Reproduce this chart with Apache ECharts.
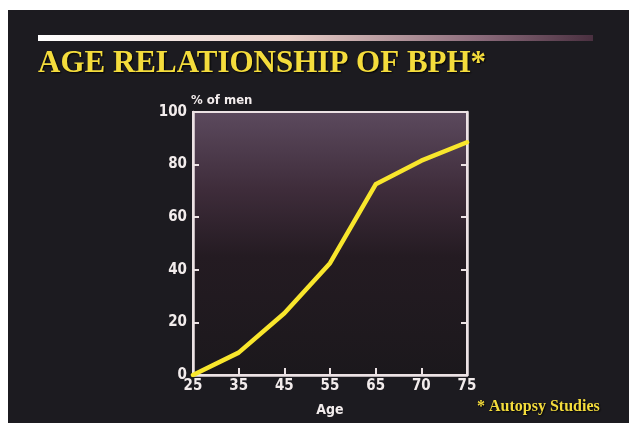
<!DOCTYPE html>
<html>
<head>
<meta charset="utf-8">
<script src="https://cdn.jsdelivr.net/npm/echarts@6/dist/echarts.min.js"></script>
<style>
  html, body { margin: 0; padding: 0; background: #ffffff; }
  #chart { width: 629px; height: 423px; }
</style>
</head>
<body>
<div id="chart"></div>
<script>
// ages (evenly spaced on the slide)
var ages = ['25', '35', '45', '55', '65', '70', '75'];
// % of men with BPH
var pctMen = [0, 8.5, 23.5, 42.5, 72.5, 81.5, 88.5];
var yTicks = { min: 0, max: 100, step: 20 };

var labelFont = "'DejaVu Sans Condensed', 'Liberation Sans Narrow', sans-serif";
var serifFont = "'Liberation Serif', 'DejaVu Serif', serif";

var chart = echarts.init(document.getElementById('chart'));

var option = {
    backgroundColor: '#ffffff',
    // slide background + gradient rule
    graphic: [
        {
            type: 'rect', z: -10,
            shape: { x: 8, y: 10, width: 621, height: 413 },
            style: { fill: '#1c1b20' }
        },
        {
            type: 'rect', z: -5,
            shape: { x: 38, y: 35, width: 555, height: 6 },
            style: {
                fill: {
                    type: 'linear', x: 0, y: 0, x2: 1, y2: 0,
                    colorStops: [
                        { offset: 0, color: '#ffffff' },
                        { offset: 0.45, color: '#e9cfc8' },
                        { offset: 0.8, color: '#8a6a7a' },
                        { offset: 1, color: '#4a3040' }
                    ]
                }
            }
        }
    ],
    title: [
        {
            text: 'AGE RELATIONSHIP OF BPH*',
            left: 38, top: 48, padding: 0,
            textStyle: {
                color: '#f4dc3c', fontFamily: serifFont, fontWeight: 'bold', fontSize: 31,
                textShadowColor: '#000000', textShadowBlur: 2, textShadowOffsetX: 1, textShadowOffsetY: 1
            }
        },
        {
            text: '* Autopsy Studies',
            left: 477, top: 399, padding: 0,
            textStyle: {
                color: '#f4dc3c', fontFamily: serifFont, fontWeight: 'bold', fontSize: 16,
                textShadowColor: '#000000', textShadowBlur: 2, textShadowOffsetX: 1, textShadowOffsetY: 1
            }
        }
    ],
    grid: {
        show: true,
        left: 193, right: 162, top: 112, bottom: 48,
        borderColor: '#ece2e4', borderWidth: 2,
        backgroundColor: {
            type: 'linear', x: 0, y: 0, x2: 0, y2: 1,
            colorStops: [
                { offset: 0, color: '#5c4a5e' },
                { offset: 0.3, color: '#3e2c3a' },
                { offset: 0.55, color: '#241b22' },
                { offset: 1, color: '#1b181c' }
            ]
        }
    },
    xAxis: {
        type: 'category',
        data: ages,
        boundaryGap: false,
        name: 'Age',
        nameLocation: 'middle',
        nameGap: 28,
        nameTextStyle: { color: '#f2ecec', fontFamily: labelFont, fontWeight: 'bold', fontSize: 14 },
        axisLine: { lineStyle: { color: '#ece2e4', width: 2.5 } },
        axisTick: { inside: true, length: 7, lineStyle: { color: '#ece2e4', width: 2 } },
        axisLabel: { color: '#f2ecec', fontFamily: labelFont, fontWeight: 'bold', fontSize: 15, margin: 4 },
        splitLine: { show: false }
    },
    yAxis: [
        {
            type: 'value',
            min: yTicks.min, max: yTicks.max, interval: yTicks.step,
            name: '% of men',
            nameLocation: 'end',
            nameGap: 5,
            nameTextStyle: { color: '#f2ecec', fontFamily: labelFont, fontWeight: 'bold', fontSize: 13, align: 'left', padding: [0, 0, 0, -2] },
            axisLine: { show: true, lineStyle: { color: '#ece2e4', width: 2.5 } },
            axisTick: { show: true, inside: true, length: 6, lineStyle: { color: '#ece2e4', width: 2 } },
            axisLabel: { color: '#f2ecec', fontFamily: labelFont, fontWeight: 'bold', fontSize: 15, margin: 6 },
            splitLine: { show: false }
        },
        {
            type: 'value',
            position: 'right',
            min: yTicks.min, max: yTicks.max, interval: yTicks.step,
            axisLine: { show: true, lineStyle: { color: '#ece2e4', width: 2.5 } },
            axisTick: { show: true, inside: true, length: 6, lineStyle: { color: '#ece2e4', width: 2 } },
            axisLabel: { show: false },
            splitLine: { show: false }
        }
    ],
    series: [{
        type: 'line',
        data: pctMen,
        showSymbol: false,
        lineStyle: { color: '#f8e62c', width: 4.5, cap: 'round', join: 'round' },
        z: 5
    }]
};

chart.setOption(option);
</script>
</body>
</html>
